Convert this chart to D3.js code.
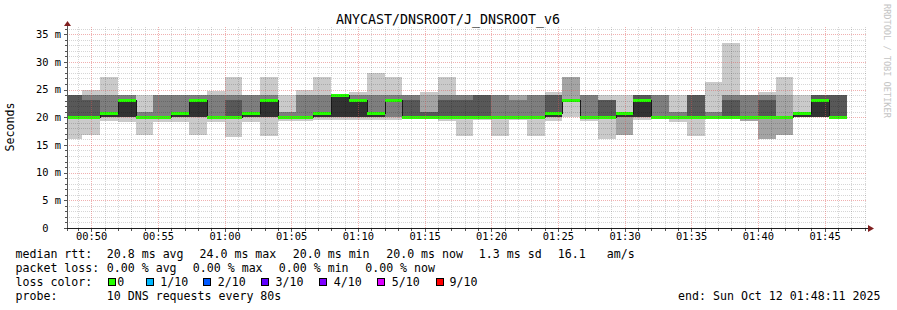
<!DOCTYPE html>
<html>
<head>
<meta charset="utf-8">
<script src="https://cdn.jsdelivr.net/npm/d3@7"></script>
<style>
  body { margin: 0; background: #fff; }
  svg text { font-family: "DejaVu Sans Mono", monospace; white-space: pre; }
</style>
</head>
<body>
<div id="vis"></div>
<script>
// sorted ping times (ms) for each 80 s step, ping1 = fastest of the 10
const ping1  = [16,16.8,19.3,19.1,16.8,19.2,19.1,16.8,19.2,16.4, 19.2,16.6,19.3,19.3,19.5,19.5,19.5,19.5,19.5,20, 20,19.3,16.6,19.5,16.6,19.5,16.6,19.3,20,19.3, 16,16.8,19.5,20,19.2,16.7,20,20,19.3,16, 16.8,20,20,20];
const ping2  = [19.6,19.6,20,20,20,20,20,20,20,20, 20,20,20,20,20,20,20,20,20,20, 20,20,20,20,20,20,20,20,23.2,20, 20,16.8,20,20,20,20,20,20,19.3,16, 16.8,20,20,20];
const ping3  = [20,20,20,20,20,20,20,20,20,20, 20,20,20,20,20,20,20,20,20,20, 20,20,20,20,20,20,20,20,23.2,20, 20,20,20,20,20,20,20,20,20,20, 20,20,20,20];
const ping4  = [20,20,20,20,20,20,20,20,20,20, 20,20,20,20,20,20,20,20,23.2,20, 20,20,20,20,20,20,20,20,23.2,20, 20,20,20,20,20,20,20,20,20,20, 20,20,20,20];
const ping5  = [20,20,20,20,20,20,20,20,20,20, 20,20,20,20,20,20,20,20,23.2,20, 20,20,20,20,20,20,20,20,23.2,20, 20,20,20,20,20,20,20,20,20,20, 20,20,20,20];
const ping6  = [20,20,20.7,23.2,20,20,20.7,23.2,20,20, 20.7,23.2,20,20,20.7,24,23.2,20.7,23.2,20, 20,20,20,20,20,20,20,20.7,23.2,20, 20,20.7,23.2,20,20,20,20,20,20,20, 20,20.7,23.2,20];
const ping7  = [24,23.1,20.7,23.2,20,20,20.7,23.2,20,23.1, 20.7,23.2,20,20,20.7,24,23.2,20.7,23.2,23.1, 21,23.1,23.1,24,20,20,20,24,23.2,20, 23.1,20.7,24,20,20,24,20,23.1,20,23.1, 20,20.7,24,24];
const ping8  = [24,24,24,24,21,24,24,24,24,24, 24,24,21,24,24,24,24,24,24,24, 21,24,24,24,24,23.1,24,24,23.2,24, 23.1,20.7,24,24,21,24,21,24,24,24, 20,20.7,24,24];
const ping9  = [24,24,24,24,21,24,24,24,24,24, 24,24,21,24,24,24,24,24,24,24, 24,24,24,24,24,24,24,24,27.2,24, 23.1,20.7,24,24,21,24,21,24,24,24, 24,20.7,24,24];
const ping10 = [24,25,27.2,24,24,24,24,24,24.7,27.2, 24,27.2,24,25,27.2,24,24.6,28,27.2,24, 24.6,27.2,24,24,24,24,24,24.6,27.2,24, 24,24,24,24,24,24,26.3,33.5,24,24.6, 27.2,24,24,24];
// median rtt per step (ms) and loss per step (of 10)
const median = [20,20,20.7,23.2,20,20,20.7,23.2,20,20, 20.7,23.2,20,20,20.7,24,23.2,20.7,23.2,20, 20,20,20,20,20,20,20,20.7,23.2,20, 20,20.7,23.2,20,20,20,20,20,20,20, 20,20.7,23.2,20];
const loss = median.map(() => 0);

const yTicks = [0, 5, 10, 15, 20, 25, 30, 35];
const yTickLabels = ["0", "5 m", "10 m", "15 m", "20 m", "25 m", "30 m", "35 m"];
const lossLabels = ["0", "1/10", "2/10", "3/10", "4/10", "5/10", "9/10"];
const lossColors = ["#26ff00", "#00b8ff", "#0059ff", "#5e00ff", "#7e00ff", "#dd00ff", "#ff0000"];
const lossIndex = [0, 1, 2, 3, 4, 5, 6, 6, 6, 6, 6];
const smokeGrays = ["#cacaca", "#a4a4a4", "#7e7e7e", "#585858", "#323232"];
const medianStats = ["20.8 ms avg", "24.0 ms max", "20.0 ms min", "20.0 ms now", "1.3 ms sd", "16.1", "am/s"];
const lossStats = ["0.00 % avg", "0.00 % max", "0.00 % min", "0.00 % now"];

const W = 897, H = 310;
const stepSec = 80;
const firstStep = new Date(2025, 9, 12, 0, 48, 0);
const tStart = new Date(2025, 9, 12, 0, 48, 11);
const tEnd = new Date(2025, 9, 12, 1, 48, 11);

const pings = [ping1, ping2, ping3, ping4, ping5, ping6, ping7, ping8, ping9, ping10];

const svg = d3.select("#vis").append("svg")
  .attr("width", W).attr("height", H)
  .style("display", "block");
svg.append("rect").attr("width", W).attr("height", H).attr("fill", "#fff");

const x = d3.scaleTime().domain([tStart, tEnd]).range([67, 867]);
const y = d3.scaleLinear().domain([0, 36.3]).range([228, 27]);
const px = v => Math.round(v);

const steps = median.map((m, i) => {
  const t0 = d3.timeSecond.offset(firstStep, i * stepSec);
  const t1 = d3.timeSecond.offset(t0, stepSec);
  return {i, x0: px(Math.max(x(t0), 67)), x1: px(x(t1))};
});

// smoke: band b spans ping(b+1) .. ping(10-b), inner bands darker
const smoke = svg.append("g").attr("shape-rendering", "crispEdges");
for (let b = 0; b < 5; b++) {
  smoke.selectAll(null).data(steps).join("rect")
    .attr("x", d => d.x0)
    .attr("width", d => d.x1 - d.x0)
    .attr("y", d => px(y(pings[9 - b][d.i])))
    .attr("height", d => px(y(pings[b][d.i])) - px(y(pings[9 - b][d.i])))
    .attr("fill", smokeGrays[b]);
}

// median: dark connectors, then loss-coloured steps
const med = svg.append("g").attr("shape-rendering", "crispEdges");
steps.slice(0, -1).forEach(d => {
  const a = px(y(median[d.i])), b = px(y(median[d.i + 1]));
  if (a !== b) {
    med.append("line")
      .attr("x1", d.x1 + 0.5).attr("x2", d.x1 + 0.5)
      .attr("y1", Math.min(a, b)).attr("y2", Math.max(a, b) + 1)
      .attr("stroke", "#1a1a1a").attr("stroke-width", 1);
  }
});
med.selectAll(null).data(steps).join("rect")
  .attr("x", d => d.x0)
  .attr("width", d => d.x1 - d.x0)
  .attr("y", d => px(y(median[d.i])) - 1)
  .attr("height", 3)
  .attr("fill", d => lossColors[lossIndex[loss[d.i]]]);

// grid on top of the data, translucent
const grid = svg.append("g").attr("shape-rendering", "crispEdges")
  .attr("stroke-width", 1).attr("stroke-dasharray", "1,1");
const minorCol = "rgba(0,0,0,0.16)", majorCol = "rgba(222,79,79,0.45)";
const minorY = d3.range(1, 37).filter(v => v % 5 !== 0);
grid.selectAll(null).data(minorY).join("line")
  .attr("x1", 67).attr("x2", 867)
  .attr("y1", d => px(y(d)) + 0.5).attr("y2", d => px(y(d)) + 0.5)
  .attr("stroke", minorCol);
const minuteTicks = x.ticks(d3.timeMinute.every(1));
grid.selectAll(null).data(minuteTicks.filter(t => t.getMinutes() % 5 !== 0)).join("line")
  .attr("x1", d => px(x(d)) + 0.5).attr("x2", d => px(x(d)) + 0.5)
  .attr("y1", 27).attr("y2", 228)
  .attr("stroke", minorCol);
grid.selectAll(null).data(yTicks.slice(1)).join("line")
  .attr("x1", 67).attr("x2", 867)
  .attr("y1", d => px(y(d)) + 0.5).attr("y2", d => px(y(d)) + 0.5)
  .attr("stroke", majorCol);
grid.selectAll(null).data(x.ticks(d3.timeMinute.every(5))).join("line")
  .attr("x1", d => px(x(d)) + 0.5).attr("x2", d => px(x(d)) + 0.5)
  .attr("y1", 27).attr("y2", 228)
  .attr("stroke", majorCol);

// axes
const axisCol = "#1f1f1f", arrowCol = "#801f1f";
const ax = svg.append("g").attr("shape-rendering", "crispEdges");
ax.append("line").attr("x1", 67.5).attr("x2", 67.5).attr("y1", 24).attr("y2", 231)
  .attr("stroke", "#555");
ax.append("line").attr("x1", 64).attr("x2", 869).attr("y1", 228.5).attr("y2", 228.5)
  .attr("stroke", axisCol);
ax.selectAll(null).data(d3.range(0, 37)).join("line")
  .attr("x1", d => d % 5 === 0 ? 64 : 65).attr("x2", 67)
  .attr("y1", d => px(y(d)) + 0.5).attr("y2", d => px(y(d)) + 0.5)
  .attr("stroke", "#555");
ax.selectAll(null).data(minuteTicks).join("line")
  .attr("x1", d => px(x(d)) + 0.5).attr("x2", d => px(x(d)) + 0.5)
  .attr("y1", 229).attr("y2", d => d.getMinutes() % 5 === 0 ? 232 : 231)
  .attr("stroke", "#555");
svg.append("path").attr("d", "M64,26L67.5,21L71,26Z").attr("fill", arrowCol);
svg.append("path").attr("d", "M868,225L874,228.5L868,232Z").attr("fill", arrowCol);

const yAxis = svg.append("g").attr("transform", "translate(61,0)")
  .call(d3.axisLeft(y).tickValues(yTicks).tickSize(0).tickPadding(0)
    .tickFormat((d, i) => yTickLabels[i].padEnd(3, " ")));
yAxis.select(".domain").remove();
yAxis.selectAll("text").attr("font-size", 10.4).attr("fill", "#000")
  .attr("font-family", "DejaVu Sans Mono");

const xAxis = svg.append("g").attr("transform", "translate(0,228)")
  .call(d3.axisBottom(x).ticks(d3.timeMinute.every(5)).tickSize(0).tickPadding(5)
    .tickFormat(d3.timeFormat("%H:%M")));
xAxis.select(".domain").remove();
xAxis.selectAll("text").attr("font-size", 10.4).attr("fill", "#000")
  .attr("font-family", "DejaVu Sans Mono");

// title and side labels
svg.append("text").attr("x", 448).attr("y", 24).attr("text-anchor", "middle")
  .attr("font-size", 13.3).text("ANYCAST/DNSROOT/J_DNSROOT_v6");
svg.append("text").attr("transform", "translate(14,127) rotate(-90)")
  .attr("text-anchor", "middle").attr("font-size", 11.6).text("Seconds");
svg.append("text").attr("transform", "translate(884,4) rotate(90)")
  .attr("font-size", 8.6).attr("fill", "#c4c4c4").text("RRDTOOL / TOBI OETIKER");

// legend
const lg = svg.append("g").attr("font-size", 11.6).attr("fill", "#000");
const put = (xx, yy, s) => lg.append("text").attr("x", xx).attr("y", yy).text(s);
put(15.5, 258.3, "median rtt:");
[106.8, 199.5, 292.8, 386.2, 478.8, 557.8, 606.8].forEach((xx, i) => put(xx, 258.3, medianStats[i]));
put(15.5, 272.3, "packet loss:");
[106.8, 192.8, 278.8, 365.2].forEach((xx, i) => put(xx, 272.3, lossStats[i]));
put(15.5, 286, "loss color:");
const boxX = [108, 145.5, 203, 261, 319, 376.5, 436];
const labX = [117.2, 160.2, 217.8, 275.5, 333.8, 391.8, 449.5];
lossLabels.forEach((l, i) => {
  lg.append("rect").attr("x", boxX[i] + 0.5).attr("y", 278.5).attr("width", 7).attr("height", 7)
    .attr("fill", lossColors[i]).attr("stroke", "#000").attr("shape-rendering", "crispEdges");
  put(labX[i], 286, l);
});
put(15.5, 300, "probe:");
put(106.8, 300, "10 DNS requests every " + stepSec + "s");
lg.append("text").attr("x", 880.5).attr("y", 300).attr("text-anchor", "end")
  .text("end: " + d3.timeFormat("%a %b %d %H:%M:%S %Y")(tEnd));
</script>
</body>
</html>
